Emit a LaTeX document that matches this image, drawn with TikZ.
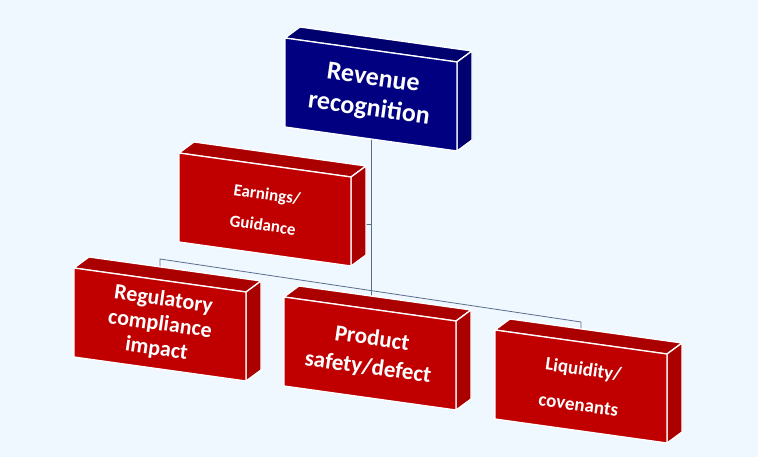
\documentclass[tikz,border=0pt]{standalone}
\usepackage{fontspec}
\setmainfont{Carlito}
\definecolor{bg}{RGB}{240,248,255}
\definecolor{navyf}{RGB}{0,0,128}
\definecolor{navys}{RGB}{0,0,110}
\definecolor{redf}{RGB}{192,0,0}
\definecolor{reds}{RGB}{170,0,0}
\definecolor{lnk}{RGB}{90,110,140}
\tikzset{
  facefront/.style={draw=white,line width=1.3pt,line join=round},
  lbl/.style={text=white,align=center,rotate=-8,inner sep=0pt},
  link/.style={draw=lnk,line width=0.8pt}
}
% #1 name, #2 x, #3 y (front top-left), #4 front colour, #5 side colour, #6 font, #7 text
\newcommand{\cube}[7]{%
  \fill[#5,facefront] (#2,#3) -- ++(172,24) -- ++(15,-11) -- ++(-172,-24) -- cycle;
  \fill[#5,facefront] (#2+172,#3+24) -- ++(15,-11) -- ++(0,89) -- ++(-15,11) -- cycle;
  \fill[#4,facefront] (#2,#3) -- ++(172,24) -- ++(0,89) -- ++(-172,-24) -- cycle;
  \node[lbl,font=#6] (#1) at (#2+86,#3+56.5) {#7};
}
\begin{document}
\begin{tikzpicture}[x=1pt,y=-1pt]
\fill[bg] (0,0) rectangle (758,457);
\useasboundingbox (0,0) rectangle (758,457);
\coordinate (rc) at (371,90);
\coordinate (ec) at (266,224);
\coordinate (pc) at (371,350);
\coordinate (gc) at (160,320);
\coordinate (lc) at (581,390);
\coordinate (b1) at (160,259);
\coordinate (b2) at (581,322);
\draw[link] (rc) -- (pc);
\draw[link] (ec) -- (ec -| rc);
\draw[link] (gc) -- (b1) -- (b2) -- (lc);
\cube{rev}{285}{38}{navyf}{navys}{\bfseries\fontsize{26}{31}\selectfont}{Revenue\\recognition}
\cube{earn}{179}{153}{redf}{reds}{\bfseries\fontsize{17}{31}\selectfont}{Earnings/\\Guidance}
\cube{reg}{74}{268}{redf}{reds}{\bfseries\fontsize{22}{25}\selectfont}{Regulatory\\compliance\\impact}
\cube{prod}{284}{297}{redf}{reds}{\bfseries\fontsize{23}{29}\selectfont}{Product\\safety/defect}
\cube{liq}{495}{330}{redf}{reds}{\bfseries\fontsize{19}{36}\selectfont}{Liquidity/\\covenants}
\end{tikzpicture}
\end{document}
